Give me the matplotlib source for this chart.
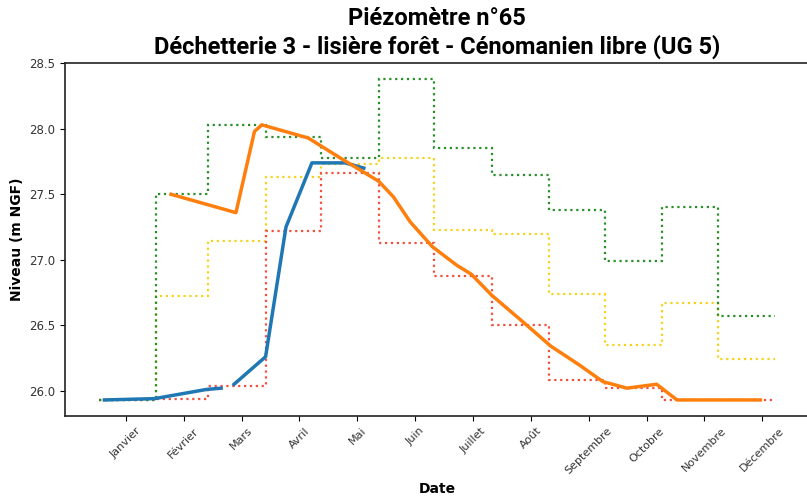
import numpy as np
import matplotlib.pyplot as plt

# Month names used for the x ticks
mois = ['Janvier', 'Février', 'Mars', 'Avril', 'Mai', 'Juin', 'Juillet',
        'Août', 'Septembre', 'Octobre', 'Novembre', 'Décembre']

# Month boundaries (day of year)
bornes = [0, 31, 59, 90, 120, 151, 181, 212, 243, 273, 304, 334, 365]

# Monthly statistics (m NGF)
niv_max = [25.93, 27.50, 28.03, 27.94, 27.78, 28.38, 27.85, 27.65, 27.38, 26.99, 27.40, 26.57]
niv_moy = [25.93, 26.72, 27.14, 27.63, 27.73, 27.78, 27.23, 27.20, 26.74, 26.35, 26.67, 26.24]
niv_min = [25.93, 25.94, 26.04, 27.22, 27.66, 27.13, 26.88, 26.50, 26.08, 26.02, 25.93, 25.93]

# Previous year measurements
jours_prec = [39, 74, 84, 88, 113, 130, 151, 159, 168, 180, 193, 201, 212, 231, 244,
              259, 272, 285, 301, 312, 357]
niv_prec = [27.50, 27.36, 27.98, 28.03, 27.93, 27.78, 27.60, 27.48, 27.29, 27.10, 26.96,
            26.89, 26.73, 26.50, 26.34, 26.20, 26.07, 26.02, 26.05, 25.93, 25.93]

# Current year measurements
jours_cour = [3, 30, 58, 66, np.nan, 73, 90, 101, 115, 133, 143]
niv_cour = [25.93, 25.94, 26.01, 26.02, np.nan, 26.05, 26.26, 27.25, 27.74, 27.74, 27.70]

# tick positions (days)
pos_ticks = np.linspace(14.6, 358, 12)

fig = plt.figure(figsize=(8.07, 5.0), dpi=100)
ax = fig.add_axes([65 / 807, 84 / 500, 744 / 807, 353 / 500])

ax.plot(jours_cour, niv_cour, color='#1f77b4', lw=2.5)
ax.plot(jours_prec, niv_prec, color='#ff7f0e', lw=2.5)

ax.stairs(niv_moy, bornes, color='#f5d31c', ls=':', lw=1.6, baseline=None)
ax.stairs(niv_min, bornes, color='#f2503f', ls=':', lw=1.6, baseline=None)
ax.stairs(niv_max, bornes, color='#2a8f2a', ls=':', lw=1.6, baseline=None)

ax.set_xlim(-18.25, 383.25)
ax.set_ylim(25.8075, 28.5025)
ax.set_yticks([26.0, 26.5, 27.0, 27.5, 28.0, 28.5])
ax.set_xticks(pos_ticks)
ax.set_xticklabels(mois, rotation=45, fontsize=8, color='#333333')
ax.tick_params(axis='y', labelsize=8.5, labelcolor='#333333')
ax.spines['right'].set_visible(False)
for s in ['left', 'bottom', 'top']:
    ax.spines[s].set_linewidth(1.2)
    ax.spines[s].set_color('#222222')

ax.set_ylabel('Niveau (m NGF)', fontsize=10, fontweight='bold')
ax.set_xlabel('Date', fontsize=10, fontweight='bold', labelpad=4)
ax.set_title('Piézomètre n°65\nDéchetterie 3 - lisière forêt - Cénomanien libre (UG 5)',
             fontsize=17, fontweight='bold', family='Roboto', pad=7, linespacing=1.2)

fig.savefig('out.png', dpi=100)
